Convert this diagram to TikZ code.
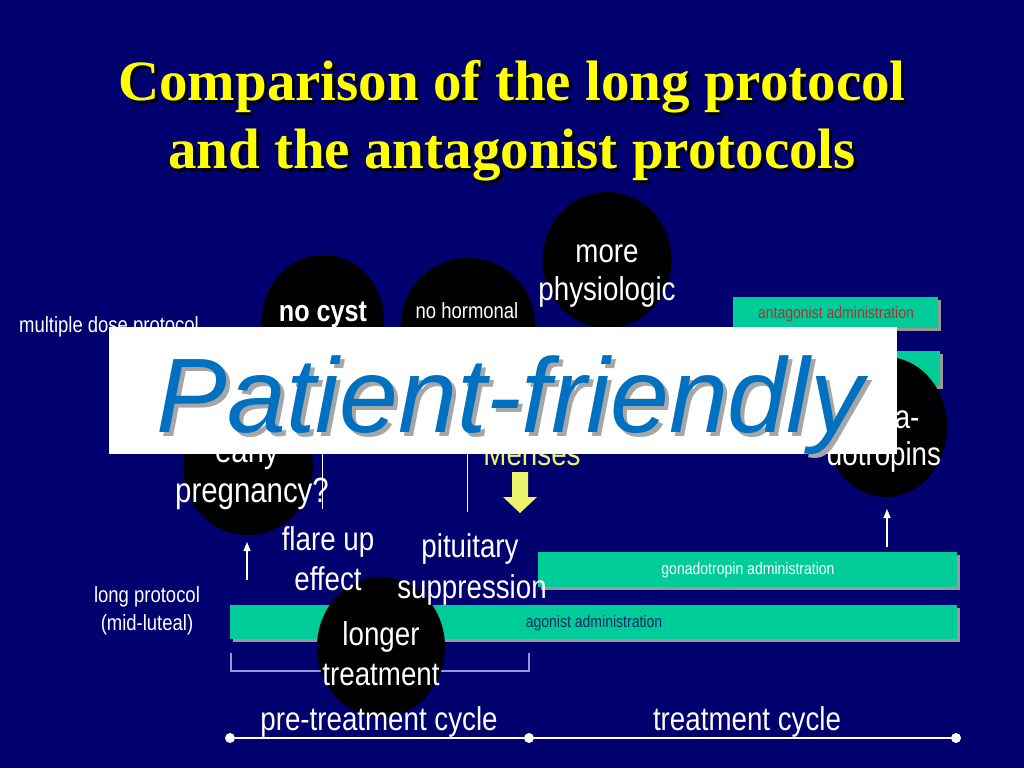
\documentclass[tikz,border=0pt]{standalone}
\usepackage{fontspec}
\setmainfont{Liberation Serif}
\newfontfamily\arial{Liberation Sans}
\newfontfamily\narrow[FakeStretch=0.84]{Liberation Sans}
\usetikzlibrary{shapes.geometric,shadows,arrows.meta}
\definecolor{navy}{RGB}{0,0,110}
\definecolor{teal}{RGB}{0,204,153}
\definecolor{titleyellow}{RGB}{255,255,0}
\definecolor{menses}{RGB}{236,244,110}
\definecolor{pfblue}{RGB}{0,112,192}
\definecolor{brack}{RGB}{150,150,210}
\definecolor{antred}{RGB}{176,48,48}
\definecolor{agblue}{RGB}{0,40,100}
\tikzset{
  bar/.style={rectangle, fill=teal, inner sep=0pt, drop shadow={shadow xshift=3pt, shadow yshift=-3pt, fill=gray!80, opacity=1}},
  circ/.style={ellipse, fill=black, inner sep=0pt},
  big/.style={font=\narrow\fontsize{33}{39}\selectfont, text=white, anchor=base, inner sep=0pt},
  mid/.style={font=\narrow\fontsize{22}{26}\selectfont, text=white, anchor=base, inner sep=0pt},
  small/.style={font=\narrow\fontsize{16.7}{20}\selectfont, anchor=base, inner sep=0pt},
  ttl/.style={font=\bfseries\fontsize{57}{66}\selectfont, anchor=base, inner sep=0pt},
  thin/.style={draw=white, line width=1pt},
  uparrow/.style={draw=white, line width=1.2pt, -{Triangle[width=7pt,length=9pt]}}
}
\begin{document}
\begin{tikzpicture}[x=1pt,y=-1pt]
\useasboundingbox (0,0) rectangle (1024,768);
\fill[navy] (0,0) rectangle (1024,768);

% title
\node[ttl, text=black] (t1s) at (515,103) {Comparison of the long protocol};
\node[ttl, text=titleyellow] (t1) at (512,100) {Comparison of the long protocol};
\node[ttl, text=black] (t2s) at (515,171) {and the antagonist protocols};
\node[ttl, text=titleyellow] (t2) at (512,168) {and the antagonist protocols};

% bars
\node[bar, minimum width=205pt, minimum height=31pt] (antbar) at (835.5,312.5) {};
\node[bar, minimum width=206pt, minimum height=35pt] (bar2) at (837,368) {};
\node[bar, minimum width=419pt, minimum height=35pt] (gonbar) at (747.5,569.5) {};
\node[bar, minimum width=727pt, minimum height=34pt] (agbar) at (593.5,622) {};
\node[small, text=antred] (antlab) at (836,318) {antagonist administration};
\node[small, text=white] (gonlab) at (748,574) {gonadotropin administration};
\node[small, text=agblue] (aglab) at (594,627) {agonist administration};

% bracket
\coordinate (b1) at (231,653); \coordinate (b2) at (231,671);
\coordinate (b3) at (529,671); \coordinate (b4) at (529,653);
\draw[brack, line width=1.2pt] (b1) -- (b2) -- (b3) -- (b4);

% circles
\node[circ, minimum width=122pt, minimum height=130pt] (cyst) at (323,320) {};
\node[circ, minimum width=134pt, minimum height=134pt] (horm) at (468,325) {};
\node[circ, minimum width=129pt, minimum height=136pt] (phys) at (607,260) {};
\node[circ, minimum width=130pt, minimum height=134pt] (preg) at (248,468) {};
\node[circ, minimum width=122pt, minimum height=140pt] (gona) at (886,427) {};
\node[circ, minimum width=128pt, minimum height=140pt] (longc) at (381,647) {};

% circle texts
\node[big, font=\narrow\bfseries\fontsize{30}{36}\selectfont] (cystt) at (323,321) {no cyst};
\node[mid] (hormt) at (467,318) {no hormonal};
\node[big] (physa) at (607,262) {more};
\node[big] (physb) at (607,300) {physiologic};
\node[big, font=\narrow\fontsize{35}{41}\selectfont] (prega) at (247,462) {early};
\node[big, font=\narrow\fontsize{35}{41}\selectfont] (pregb) at (252,502) {pregnancy?};
\node[big] (gonaa) at (884,428) {gona-};
\node[big] (gonab) at (884,465) {dotropins};
\node[big] (longa) at (381,645) {longer};
\node[big] (longb) at (381,685) {treatment};

% other labels
\node[mid] (mdp) at (109,332) {multiple dose protocol};
\node[mid] (lp1) at (147,602) {long protocol};
\node[mid] (lp2) at (147,630) {(mid-luteal)};
\node[big] (flare1) at (328,550) {flare up};
\node[big] (flare2) at (328,590) {effect};
\node[big] (pit1) at (470,557) {pituitary};
\node[big] (pit2) at (472,598) {suppression};
\node[big, text=menses] (mens) at (532,465) {Menses};
\node[big] (pre) at (379,730) {pre-treatment cycle};
\node[big] (trc) at (747,730) {treatment cycle};

% lines and arrows
\coordinate (v1a) at (322,440); \coordinate (v1b) at (322,509);
\coordinate (v2a) at (467,440); \coordinate (v2b) at (467,512);
\draw[thin] (v1a) -- (v1b);
\draw[thin] (v2a) -- (v2b);
\coordinate (a1s) at (247,580); \coordinate (a1e) at (247,542);
\coordinate (a2s) at (887,547); \coordinate (a2e) at (887,509);
\draw[uparrow] (a1s) -- (a1e);
\draw[uparrow] (a2s) -- (a2e);
\fill[menses] (512,472) -- (528,472) -- (528,497) -- (537,497) -- (520,513) -- (503,497) -- (512,497) -- cycle;

% timeline
\node[circle, fill=white, minimum size=10pt, inner sep=0pt] (d1) at (230,738) {};
\node[circle, fill=white, minimum size=10pt, inner sep=0pt] (d2) at (529,738) {};
\node[circle, fill=white, minimum size=10pt, inner sep=0pt] (d3) at (956,738) {};
\draw[white, line width=1.5pt] (d1) -- (d2) -- (d3);

% overlay box
\node[rectangle, fill=white, minimum width=788pt, minimum height=127pt, inner sep=0pt] (box) at (503,390.5) {};
\node[font=\arial\itshape\fontsize{106}{120}\selectfont, text=gray!70, anchor=base, inner sep=0pt] (pfs) at (514,436) {Patient-friendly};
\node[font=\arial\itshape\fontsize{106}{120}\selectfont, text=pfblue, anchor=base, inner sep=0pt] (pf) at (510,432) {Patient-friendly};
\end{tikzpicture}
\end{document}
